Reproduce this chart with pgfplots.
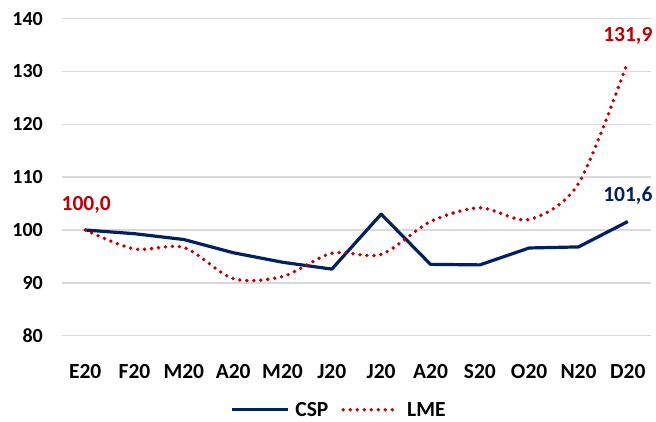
\documentclass[border=0pt]{standalone}
\usepackage{fontspec}
\setmainfont{Carlito}
\usepackage{pgfplots}
\pgfplotsset{compat=1.18}

\definecolor{navy}{HTML}{002060}
\definecolor{darkred}{HTML}{C00000}
\definecolor{gridgray}{HTML}{D9D9D9}

\begin{document}
\begin{tikzpicture}
\begin{axis}[
    scale only axis,
    width=589pt, height=317.1pt,
    xmin=-0.47, xmax=11.47,
    ymin=80, ymax=140,
    ytick={80,90,...,140},
    xtick={0,...,11},
    xticklabels={E20,F20,M20,A20,M20,J20,J20,A20,S20,O20,N20,D20},
    ymajorgrids=true,
    grid style={color=gridgray, line width=1.5pt},
    axis line style={draw=none},
    major tick length=0pt,
    clip=false,
    /pgf/number format/assume math mode=true,
    yticklabel style={font=\fontsize{20}{24}\selectfont\bfseries, inner sep=0pt, anchor=east, xshift=-19pt},
    xticklabel style={font=\fontsize{21.5}{25}\selectfont\bfseries, inner sep=0pt, anchor=base, yshift=-43pt},
    legend columns=2,
    legend image code/.code={\draw[#1] (0pt,0pt) -- (56pt,0pt);},
    legend style={at={(0.2852,-0.2334)}, anchor=west, draw=none, fill=none,
        inner sep=0pt, font=\fontsize{21.5}{25}\selectfont\bfseries,
        nodes={text depth=0pt, inner ysep=0pt},
        /tikz/every odd column/.append style={column sep=4pt},
        /tikz/every even column/.append style={column sep=11pt}},
]
% CSP
\addplot[color=navy, line width=3.2pt, line join=round] coordinates {
(0,100.0) (1,99.3) (2,98.2) (3,95.7) (4,93.9) (5,92.6)
(6,103.0) (7,93.5) (8,93.4) (9,96.6) (10,96.8) (11,101.6)
};
\addlegendentry{CSP}
% LME
\addplot[color=darkred, line width=3.8pt, line cap=round, dash pattern=on 0pt off 7pt, smooth, tension=0.5] coordinates {
(0,100.0) (1,96.4) (2,96.7) (3,90.8) (4,91.2) (5,95.6)
(6,95.4) (7,101.6) (8,104.2) (9,102.0) (10,108.8) (11,131.9)
};
\addlegendentry{LME}

\node[anchor=base, text=darkred, font=\fontsize{21.5}{25}\selectfont\bfseries, inner sep=0pt, xshift=1pt, yshift=20pt] at (axis cs:0,100) {100,0};
\node[anchor=base, text=navy, font=\fontsize{21.5}{25}\selectfont\bfseries, inner sep=0pt, yshift=20pt] at (axis cs:11,101.6) {101,6};
\node[anchor=base, text=darkred, font=\fontsize{21.5}{25}\selectfont\bfseries, inner sep=0pt, yshift=20pt] at (axis cs:11,131.9) {131,9};
\end{axis}
\pgfresetboundingbox
\path[use as bounding box] (-62pt,-85.3pt) rectangle (594pt,335.7pt);
\end{tikzpicture}
\end{document}
